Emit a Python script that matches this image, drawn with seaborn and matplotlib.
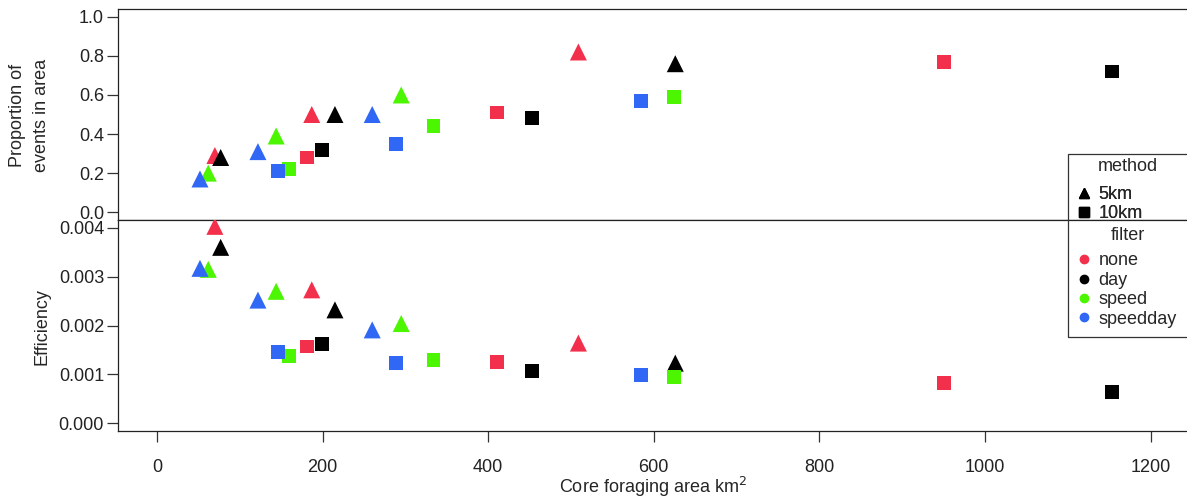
import numpy as np
import pandas as pd
import matplotlib
matplotlib.use('Agg')
import matplotlib.pyplot as plt
import seaborn as sns
from matplotlib.lines import Line2D
from matplotlib.patches import Rectangle

sns.set_style('white')
plt.rcParams['font.family'] = ['Liberation Sans', 'DejaVu Sans']
plt.rcParams['font.size'] = 13

# 데이터 - 필터별, 방법별 (3개씩)
filters = ['none', 'day', 'speed', 'speedday']
methods = ['5km', '10km']
colors = {'none': '#F2304B', 'day': '#000000', 'speed': '#4CF500', 'speedday': '#3068F5'}

# 5km (삼각형)
area_5km = {'none': [70, 187, 509], 'day': [77, 215, 626],
            'speed': [62, 144, 295], 'speedday': [52, 122, 260]}
prop_5km = {'none': [0.29, 0.50, 0.82], 'day': [0.28, 0.50, 0.76],
            'speed': [0.20, 0.39, 0.60], 'speedday': [0.17, 0.31, 0.50]}
eff_5km = {'none': [0.00403, 0.00273, 0.00164], 'day': [0.00360, 0.00232, 0.00123],
           'speed': [0.00315, 0.00270, 0.00204], 'speedday': [0.00317, 0.00252, 0.00191]}

# 10km (사각형)
area_10km = {'none': [181, 411, 951], 'day': [199, 453, 1153],
             'speed': [160, 334, 624], 'speedday': [146, 289, 585]}
prop_10km = {'none': [0.28, 0.51, 0.77], 'day': [0.32, 0.48, 0.72],
             'speed': [0.22, 0.44, 0.59], 'speedday': [0.21, 0.35, 0.57]}
eff_10km = {'none': [0.00157, 0.00126, 0.00082], 'day': [0.00162, 0.00107, 0.00064],
            'speed': [0.00138, 0.00130, 0.00094], 'speedday': [0.00145, 0.00123, 0.00098]}

rows = []
for f in filters:
    for a, p, e in zip(area_5km[f], prop_5km[f], eff_5km[f]):
        rows.append([f, '5km', a, p, e])
    for a, p, e in zip(area_10km[f], prop_10km[f], eff_10km[f]):
        rows.append([f, '10km', a, p, e])
df = pd.DataFrame(rows, columns=['filter', 'method', 'area', 'prop', 'eff'])

W, H = 1187, 501
fig = plt.figure(figsize=(W / 100, H / 100), dpi=100)
left = 118 / W
width = (1192 - 118) / W
ax1 = fig.add_axes([left, (H - 220) / H, width, 211 / H])
ax2 = fig.add_axes([left, (H - 431) / H, width, 211 / H])

markers = {'5km': '^', '10km': 's'}
sizes = {'5km': 150, '10km': 100}
for ax, col in [(ax1, 'prop'), (ax2, 'eff')]:
    for m in methods:
        sub = df[df['method'] == m]
        sns.scatterplot(data=sub, x='area', y=col, hue='filter', palette=colors,
                        marker=markers[m], s=sizes[m], linewidth=0, legend=False,
                        ax=ax, zorder=3)

for ax in (ax1, ax2):
    ax.set_xlim(-47, 1250)
    for s in ['top', 'bottom', 'left']:
        ax.spines[s].set_visible(True)
        ax.spines[s].set_color('#222222')
        ax.spines[s].set_linewidth(0.9)
    ax.spines['right'].set_visible(False)
    ax.tick_params(axis='y', direction='out', length=8, width=0.9, color='#333333',
                   left=True, labelsize=13, labelcolor='#222222', pad=2)
    ax.set_xlabel('')
    ax.set_ylabel('')

ax1.set_ylim(-0.04, 1.04)
ax1.set_yticks([0.0, 0.2, 0.4, 0.6, 0.8, 1.0])
ax1.set_yticklabels(['0.0', '0.2', '0.4', '0.6', '0.8', '1.0'])
ax1.set_xticks([])

ax2.set_ylim(-0.00016, 0.00416)
ax2.set_yticks([0.000, 0.001, 0.002, 0.003, 0.004])
ax2.set_yticklabels(['0.000', '0.001', '0.002', '0.003', '0.004'])
ax2.set_xticks([0, 200, 400, 600, 800, 1000, 1200])
ax2.tick_params(axis='x', direction='out', length=8, width=0.9, color='#333333',
                bottom=True, labelsize=13, labelcolor='#222222', pad=12)

fig.text(18 / W, 1 - 115 / H, 'Proportion of', rotation=90, ha='center', va='center', fontsize=13)
fig.text(42 / W, 1 - 115 / H, 'events in area', rotation=90, ha='center', va='center', fontsize=13)
fig.text(42 / W, 1 - 327 / H, 'Efficiency', rotation=90, ha='center', va='center', fontsize=13)
fig.text(653 / W, 1 - 487 / H, 'Core foraging area km$^2$', ha='center', va='center', fontsize=13)

# 범례
h_method = [Line2D([], [], marker=markers[m], color='black', linestyle='', markersize=7) for m in methods]
h_filter = [Line2D([], [], marker='o', color=colors[f], linestyle='', markersize=6) for f in filters]
leg_kw = dict(loc='center left', frameon=False, fontsize=13, labelspacing=0.13,
              handletextpad=0.3, handlelength=1.0, borderpad=0, borderaxespad=0)
leg1 = fig.legend(h_method, methods, bbox_to_anchor=(1075 / W, 1 - 204 / H), **leg_kw)
leg2 = fig.legend(h_filter, filters, bbox_to_anchor=(1075 / W, 1 - 290 / H), **leg_kw)
fig.add_artist(leg1)
fig.text(1128 / W, 1 - 167 / H, 'method', ha='center', va='center', fontsize=13)
fig.text(1128 / W, 1 - 236 / H, 'filter', ha='center', va='center', fontsize=13)
fig.patches.append(Rectangle((1068 / W, 1 - 337 / H), 130 / W, 183 / H,
                             transform=fig.transFigure, fill=False, edgecolor='#333333',
                             linewidth=0.9))

plt.savefig('out.png', dpi=100)
